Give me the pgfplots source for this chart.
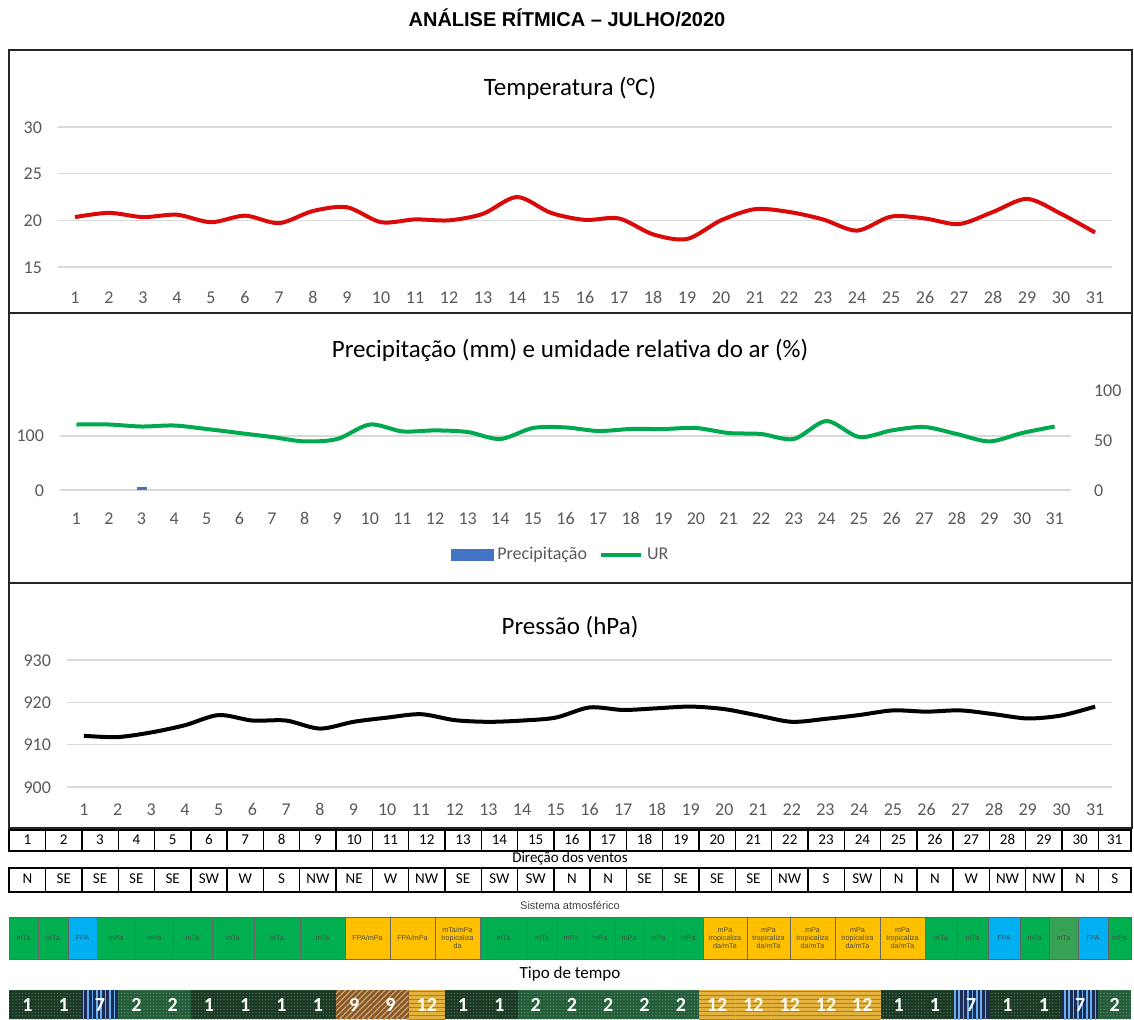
\documentclass[border=0pt]{standalone}
\usepackage{fontspec}
\setmainfont{Carlito}
\newfontfamily\arialf{Liberation Sans}
\usepackage{pgfplots}
\pgfplotsset{compat=1.18}
\usetikzlibrary{patterns.meta}

\definecolor{tred}{RGB}{218,10,10}
\definecolor{urgreen}{RGB}{0,168,80}
\definecolor{pblue}{RGB}{68,114,196}
\definecolor{gridc}{RGB}{217,217,217}
\definecolor{tickc}{RGB}{89,89,89}
\definecolor{sgreen}{RGB}{0,176,80}
\definecolor{sgreenb}{RGB}{56,162,84}
\definecolor{sblue}{RGB}{0,176,240}
\definecolor{sorange}{RGB}{255,192,0}
\definecolor{tb1}{RGB}{26,56,36}
\definecolor{tp1}{RGB}{80,120,90}
\definecolor{tb2}{RGB}{36,92,58}
\definecolor{tp2}{RGB}{90,145,105}
\definecolor{tb7}{RGB}{24,44,86}
\definecolor{tp7}{RGB}{110,175,235}
\definecolor{tb9}{RGB}{130,88,45}
\definecolor{tp9}{RGB}{215,165,105}
\definecolor{tb12}{RGB}{228,178,62}
\definecolor{tp12}{RGB}{175,125,35}

\pgfplotsset{rit/.style={scale only axis,anchor=south west,
  xmin=0.5,xmax=31.5,xtick={1,...,31},
  axis line style={draw=none},major tick length=0pt,
  ymajorgrids,grid style={gridc,line width=0.7pt},
  tick label style={font=\fontsize{9}{10}\selectfont,text=tickc,text height=6pt,text depth=0pt},
  /pgf/number format/assume math mode=true,clip=false}}

\tikzset{
  ty1/.style={fill=tb1,postaction={pattern={Dots[distance=1.6pt,radius=0.35pt]},pattern color=tp1}},
  ty2/.style={fill=tb2,postaction={pattern={Dots[distance=1.6pt,radius=0.35pt]},pattern color=tp2}},
  ty7/.style={fill=tb7,postaction={pattern={Lines[angle=90,distance=2.2pt,line width=0.8pt]},pattern color=tp7}},
  ty9/.style={fill=tb9,postaction={pattern={Lines[angle=45,distance=2pt,line width=0.6pt]},pattern color=tp9}},
  ty12/.style={fill=tb12,postaction={pattern={Lines[angle=0,distance=2pt,line width=0.5pt]},pattern color=tp12}},
  cell/.style={font=\fontsize{7.5}{9}\selectfont,text height=5.2pt,text depth=1.6pt,inner sep=0pt},
}

\newcommand\fpamp{FPA/mPa}
\newcommand\mtamp{mTa/mPa\\tropicaliza\\da}
\newcommand\tda{mPa\\tropicaliza\\da/mTa}

\begin{document}
\begin{tikzpicture}

% temperatura
\begin{axis}[rit,at={(29pt,-133.5pt)},width=527pt,height=70pt,
  ymin=15,ymax=30,ytick={15,20,25,30},
  yticklabel style={xshift=-4.5pt},xticklabel style={yshift=-8.5pt}]
\addplot[tred,line width=2pt,smooth] coordinates {
(1,20.35)(2,20.8)(3,20.35)(4,20.6)(5,19.8)(6,20.5)(7,19.7)(8,21.0)(9,21.4)(10,19.8)
(11,20.1)(12,20.0)(13,20.7)(14,22.5)(15,20.8)(16,20.05)(17,20.2)(18,18.5)(19,18.0)(20,20.0)
(21,21.2)(22,20.9)(23,20.1)(24,18.9)(25,20.4)(26,20.2)(27,19.6)(28,20.9)(29,22.3)(30,20.7)(31,18.7)};
\end{axis}

% precipitacao (eixo esquerdo)
\begin{axis}[rit,at={(30pt,-245pt)},width=505.5pt,height=50pt,
  ymin=0,ymax=185,ytick={0,100},ybar,bar width=5pt,
  yticklabel style={xshift=-4.5pt},xticklabel style={yshift=-7.5pt}]
\addplot[fill=pblue,draw=none] coordinates {(3,5)};
\end{axis}

% umidade relativa (eixo direito)
\begin{axis}[rit,at={(30pt,-245pt)},width=505.5pt,height=50pt,
  ymin=0,ymax=100,ytick={0,50,100},ymajorgrids=false,
  xticklabels={},yticklabel pos=right,
  yticklabel style={anchor=west,xshift=8pt},
  legend columns=2,
  legend style={draw=none,at={(0.496,-0.65)},anchor=center,
    font=\fontsize{9}{10}\selectfont,text=tickc,
    /tikz/every even column/.append style={column sep=4pt}}]
\addlegendimage{legend image code/.code={\fill[pblue] (0pt,-2.75pt) rectangle (21pt,2.75pt);}}
\addlegendentry{Precipitação}
\addplot[urgreen,line width=2pt,smooth,
  legend image code/.code={\draw[urgreen,line width=2pt] (0pt,0pt) -- (20pt,0pt);}] coordinates {
(1,65.5)(2,65.5)(3,63.5)(4,64.5)(5,61)(6,57)(7,53)(8,48.6)(9,51)(10,65.5)
(11,58.6)(12,59.6)(13,58)(14,51)(15,62)(16,62.6)(17,59)(18,61)(19,61)(20,62)
(21,57)(22,56)(23,51)(24,69)(25,53)(26,59.6)(27,63)(28,56)(29,48.6)(30,57)(31,63.5)};
\addlegendentry{UR}
\end{axis}

% pressao
\begin{axis}[rit,at={(33.5pt,-393.5pt)},width=522.5pt,height=63.5pt,
  ymin=900,ymax=930,ytick={900,910,920,930},
  yticklabel style={xshift=-4.5pt},xticklabel style={yshift=-4.5pt}]
\addplot[black,line width=2pt,smooth] coordinates {
(1,912.1)(2,911.8)(3,912.9)(4,914.6)(5,917.0)(6,915.7)(7,915.7)(8,913.8)(9,915.4)(10,916.4)
(11,917.2)(12,915.8)(13,915.4)(14,915.7)(15,916.4)(16,918.8)(17,918.2)(18,918.6)(19,919.0)(20,918.4)
(21,916.9)(22,915.4)(23,916.1)(24,917.0)(25,918.1)(26,917.8)(27,918.1)(28,917.2)(29,916.2)(30,916.9)(31,919.0)};
\end{axis}

\begin{scope}[x=0.5pt,y=-0.5pt]
\node[font=\arialf\bfseries\fontsize{10}{12}\selectfont] at (567,18) {ANÁLISE RÍTMICA – JULHO/2020};
\draw[line width=1pt,black!85] (9,50) rectangle (1132,313);
\draw[line width=1pt,black!85] (9,313) rectangle (1132,583);
\draw[line width=1pt,black!85] (9,583) rectangle (1132,828);
\node[font=\fontsize{12.5}{14}\selectfont] at (570,88) {Temperatura (°C)};
\node[font=\fontsize{12.5}{14}\selectfont] at (570,350) {Precipitação (mm) e umidade relativa do ar (\%)};
\node[font=\fontsize{12.5}{14}\selectfont] at (570,627) {Pressão (hPa)};

% tabela: dias
\draw[line width=0.7pt] (9,830) rectangle (1131,851);
\draw[line width=0.7pt] (9,868) rectangle (1131,892);
\foreach \i in {1,...,30}{
  \draw[line width=0.7pt] ({9.3+36.3*\i},830) -- ({9.3+36.3*\i},851);
  \draw[line width=0.7pt] ({9.3+36.3*\i},868) -- ({9.3+36.3*\i},892);
}
\foreach \i in {1,...,31}{
  \pgfmathsetmacro\cx{\i<31 ? 9.3+36.3*(\i-0.5) : 1114.7}
  \node[cell] at (\cx,841) {\i};
}
\node[cell] at (570,859) {Direção dos ventos};
\foreach \w [count=\i] in {N,SE,SE,SE,SE,SW,W,S,NW,NE,W,NW,SE,SW,SW,N,N,SE,SE,SE,SE,NW,S,SW,N,N,W,NW,NW,N,S}{
  \pgfmathsetmacro\cx{\i<31 ? 9.3+36.3*(\i-0.5) : 1114.7}
  \node[cell] at (\cx,880) {\w};
}

% sistema atmosferico
\node[font=\arialf\fontsize{5.5}{7}\selectfont,text=black!75] at (570,905) {Sistema atmosférico};
\foreach \a/\b/\c/\t in {9/38/sgreen/mTa,38/68/sgreen/mTa,68/97/sblue/FPA,97/135/sgreen/mPa,
  135/173/sgreen/mPa,173/212/sgreen/mTa,212/254/sgreen/mTa,254/300/sgreen/mTa,300/345/sgreen/mTa,
  345/390/sorange/\fpamp,390/435/sorange/\fpamp,435/480/sorange/\mtamp,480/527/sgreen/mTa,
  527/557/sgreen/mTa,557/585/sgreen/mPa,585/615/sgreen/mPa,615/643/sgreen/mPa,643/673/sgreen/mPa,
  673/703/sgreen/mPa,703/747/sorange/\tda,747/790/sorange/\tda,790/835/sorange/\tda,
  835/880/sorange/\tda,880/925/sorange/\tda,925/957/sgreen/mTa,957/988/sgreen/mTa,
  988/1020/sblue/FPA,1020/1049/sgreen/mTa,1049/1078/sgreenb/mTa,1078/1108/sblue/FPA,1108/1131/sgreen/mPa}{
  \fill[\c] (\a,917) rectangle (\b,959);
  \draw[black!60,line width=0.5pt] (\a,917) rectangle (\b,959);
  \node[font=\arialf\fontsize{3.6}{4.2}\selectfont,text=black!70,align=center] at ({(\a+\b)/2},938) {\t};
}

% tipo de tempo
\node[font=\fontsize{8.5}{10}\selectfont] at (570,974) {Tipo de tempo};
\foreach \t [count=\i] in {1,1,7,2,2,1,1,1,1,9,9,12,1,1,2,2,2,2,2,12,12,12,12,12,1,1,7,1,1,7,2}{
  \pgfmathsetmacro\xl{9.3+36.3*(\i-1)}
  \pgfmathsetmacro\xr{\i<31 ? 9.3+36.3*\i : 1131}
  \path[ty\t] (\xl,990) rectangle (\xr,1019);
  \node[font=\bfseries\fontsize{10}{12}\selectfont,text=white,text height=7pt,text depth=0pt] at ({(\xl+\xr)/2},1004) {\t};
}
\end{scope}

\pgfresetboundingbox
\path[use as bounding box] (0pt,0pt) rectangle (567pt,-509.5pt);
\end{tikzpicture}
\end{document}
